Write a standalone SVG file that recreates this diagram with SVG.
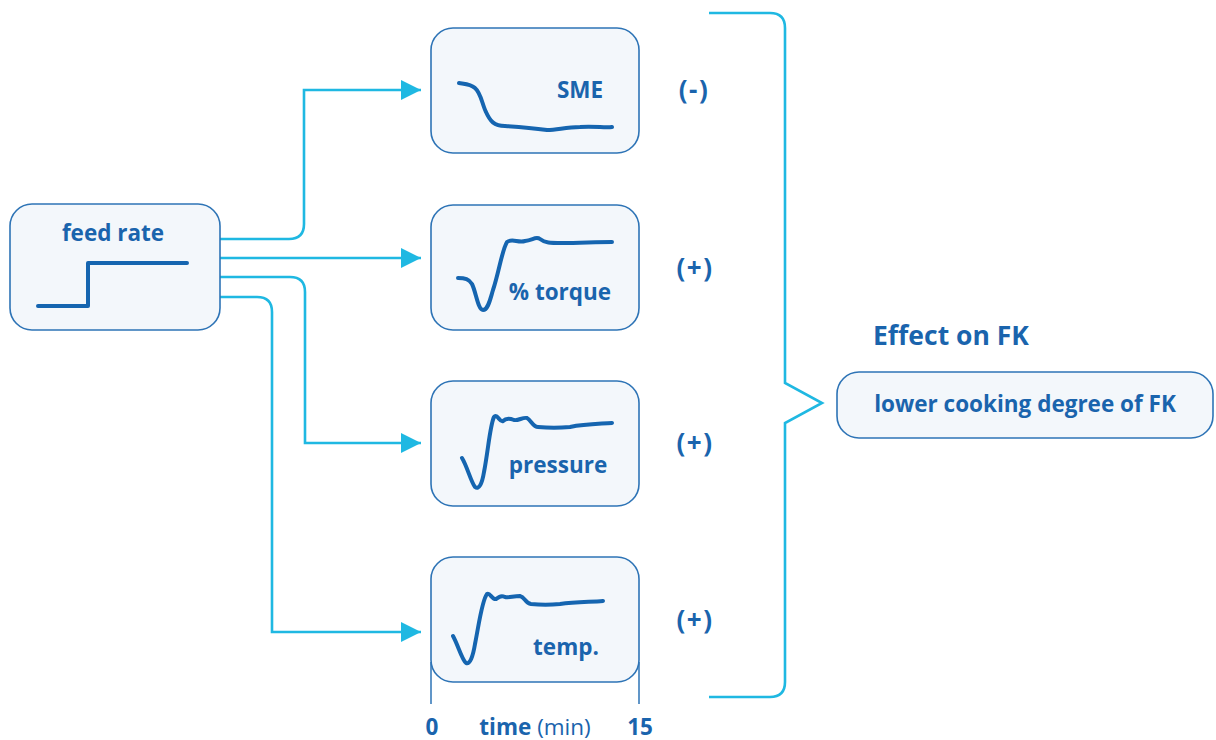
<svg xmlns="http://www.w3.org/2000/svg" width="1216" height="740" viewBox="0 0 1216 740">
<defs>
<style>
.box{fill:#f3f7fb;stroke:#2e74b6;stroke-width:1.6}
.lbl{font-family:"Open Sans","Liberation Sans",sans-serif;font-weight:700;fill:#1a64ad}
.curve{fill:none;stroke:#1565b0;stroke-width:4;stroke-linecap:round;stroke-linejoin:round}
.conn{fill:none;stroke:#1fb8e2;stroke-width:2.6}
.axis{fill:none;stroke:#2e74b6;stroke-width:1.5}
.sign{font-size:26px;letter-spacing:1.5px}
</style>
<marker id="arr" markerWidth="20" markerHeight="20" refX="20" refY="10" orient="auto" markerUnits="userSpaceOnUse">
<path d="M0,0 L20,10 L0,20 Z" fill="#1fb8e2"/>
</marker>
</defs>
<rect width="1216" height="740" fill="#ffffff"/>

<g id="connectors">
<path class="conn" d="M220,239 H289 Q304,239 304,224 V90 H421" marker-end="url(#arr)"/>
<path class="conn" d="M220,258 H421" marker-end="url(#arr)"/>
<path class="conn" d="M220,277 H290 Q305,277 305,292 V443 H421" marker-end="url(#arr)"/>
<path class="conn" d="M220,297 H257 Q272,297 272,312 V632 H421" marker-end="url(#arr)"/>
<path class="conn" d="M709,13 H770 Q785,13 785,28 V383 L822,403 L785,423 V682 Q785,697 770,697 H709"/>
</g>

<g id="feed-rate">
<rect class="box" x="10" y="204" width="210" height="126" rx="22"/>
<text class="lbl" x="113" y="241" font-size="22.5" text-anchor="middle">feed rate</text>
<path class="curve" d="M38,306 H88 V263 H187" stroke-linecap="round" stroke-linejoin="miter"/>
</g>

<g id="sme">
<rect class="box" x="431" y="28" width="208" height="125" rx="22"/>
<path class="curve" d="M459,83 C466,84 471,84 475,88 C481,93 482,104 486,112 C490,121 494,126 505,126 C520,127 532,128 547,130 C558,130 565,127 580,127 C595,126 605,128 612,127"/>
<text class="lbl" x="580" y="98" font-size="22.5" text-anchor="middle">SME</text>
</g>

<g id="torque">
<rect class="box" x="431" y="205" width="208" height="125" rx="22"/>
<path class="curve" d="M458,278 C465,278 469,279 472,284 C476,292 478,310 483,310 C488,310 490,300 493,290 C499,272 502,250 507,242 C512,238 518,243 525,241 C533,240 536,236 540,239 C545,243 550,243 562,243 C580,243 595,242 612,242"/>
<text class="lbl" x="560" y="300" font-size="22.5" text-anchor="middle">% torque</text>
</g>

<g id="pressure">
<rect class="box" x="431" y="381" width="208" height="125" rx="22"/>
<path class="curve" d="M462,458 C467,466 471,482 475,487 C479,490 482,484 484,472 C488,452 490,425 494,417 C497,413 500,423 503,421 C506,418 509,418 514,420 C518,421 523,417 527,418 C531,420 533,427 538,427 C548,428 560,428 570,427 C585,424 598,424 612,423"/>
<text class="lbl" x="558" y="473" font-size="22.5" text-anchor="middle">pressure</text>
</g>

<g id="temp">
<rect class="box" x="431" y="557" width="208" height="125" rx="22"/>
<path class="curve" d="M453,636 C458,645 462,660 466,663 C470,665 473,656 475,644 C479,624 482,600 487,594 C490,592 492,600 496,599 C499,597 501,595 505,597 C509,598 513,596 520,596 C525,597 525,603 531,604 C541,605 550,605 560,604 C575,602 590,602 603,601"/>
<text class="lbl" x="566" y="655" font-size="22.5" text-anchor="middle">temp.</text>
</g>

<g id="time-axis">
<path class="axis" d="M431,662 V704 M639,662 V704"/>
<text class="lbl" x="432" y="735" font-size="22.5" text-anchor="middle">0</text>
<text class="lbl" x="535" y="735" font-size="22.5" text-anchor="middle">time <tspan font-weight="400">(min)</tspan></text>
<text class="lbl" x="640" y="735" font-size="22.5" text-anchor="middle">15</text>
</g>

<g id="signs">
<text class="lbl sign" x="694" y="99" text-anchor="middle">(-)</text>
<text class="lbl sign" x="695" y="277" text-anchor="middle">(+)</text>
<text class="lbl sign" x="695" y="452" text-anchor="middle">(+)</text>
<text class="lbl sign" x="695" y="629" text-anchor="middle">(+)</text>
</g>

<g id="effect">
<text class="lbl" x="873" y="345" font-size="26.5">Effect on FK</text>
<rect class="box" x="837" y="372" width="376" height="66" rx="22"/>
<text class="lbl" x="1025" y="412" font-size="22.5" text-anchor="middle">lower cooking degree of FK</text>
</g>
</svg>
